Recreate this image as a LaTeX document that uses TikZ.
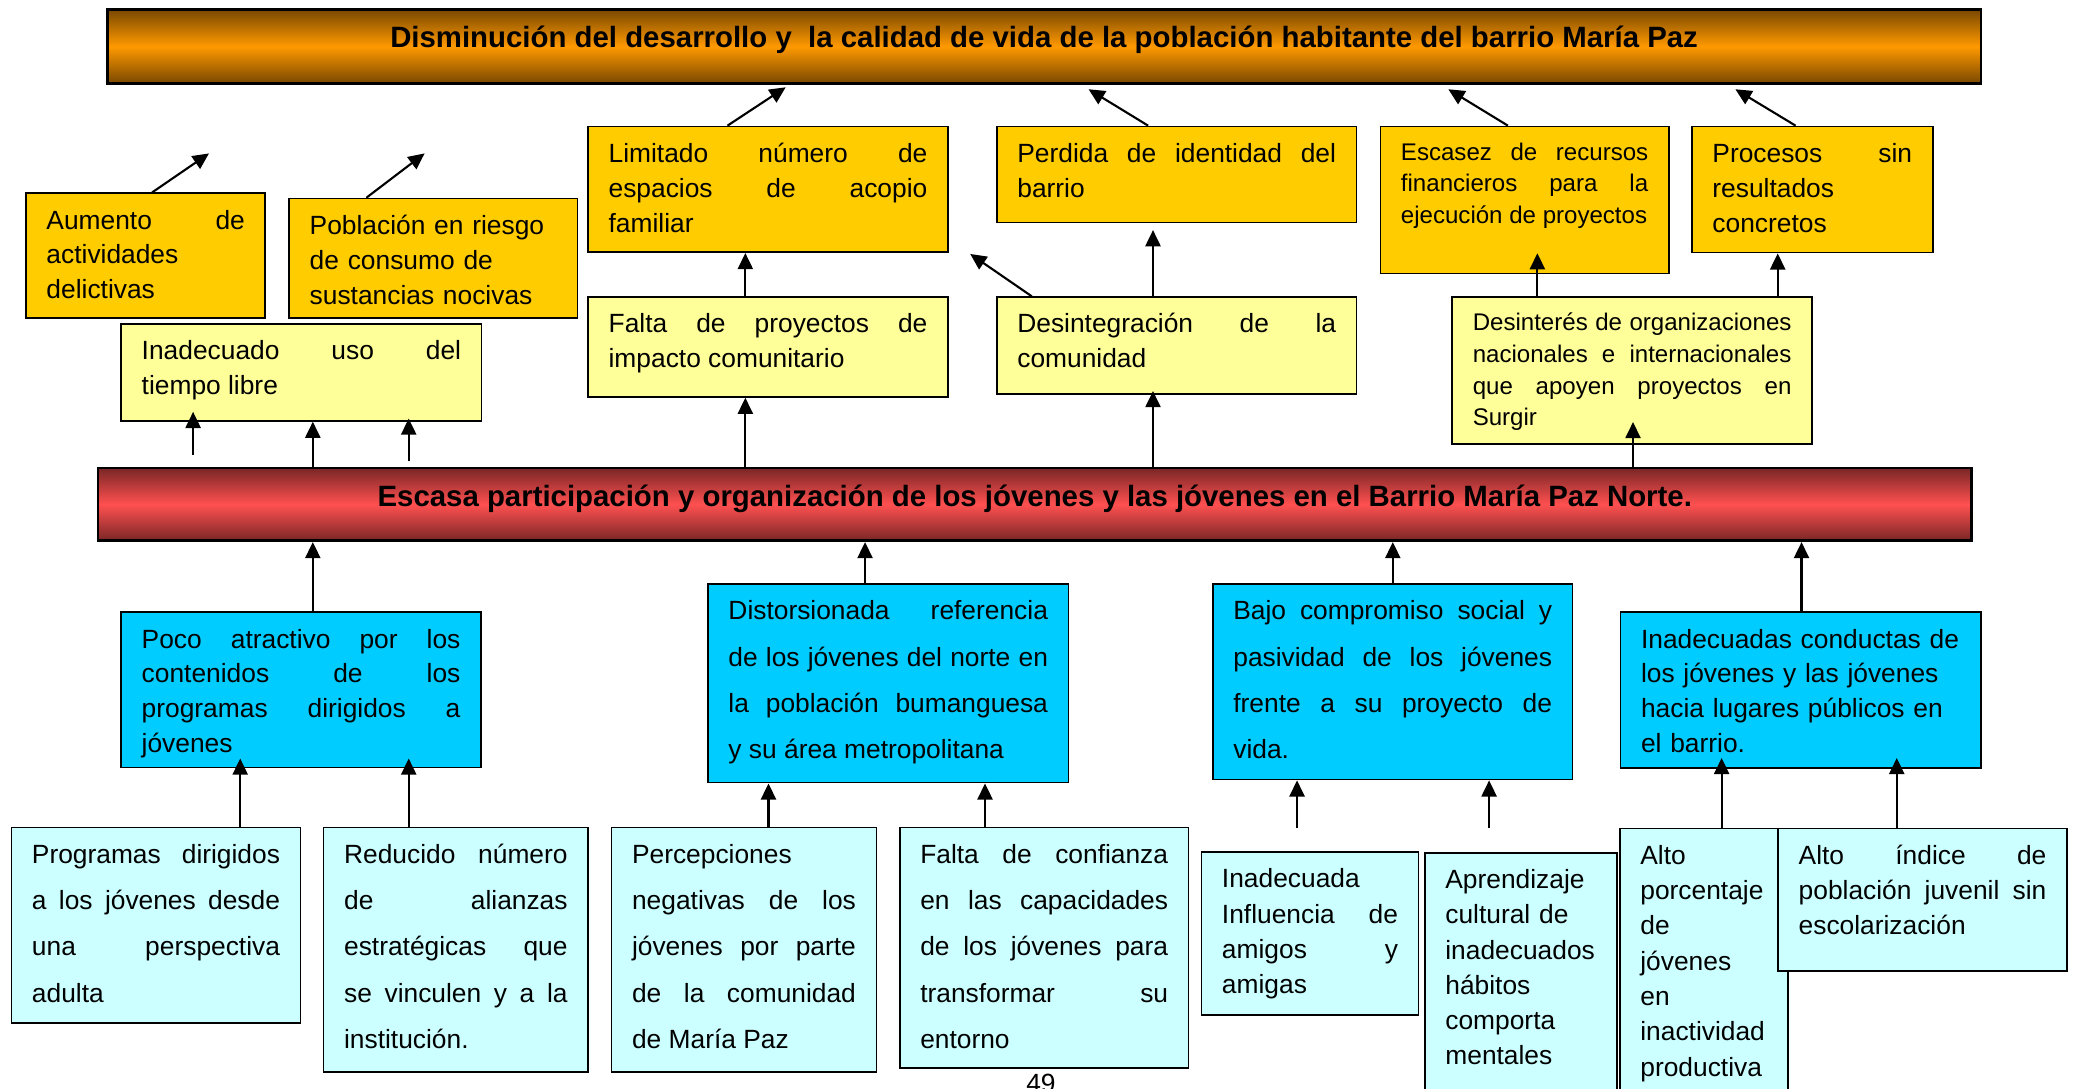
\documentclass[tikz,border=0pt]{standalone}
\usepackage{fontspec}
\setmainfont{Liberation Sans}
\usetikzlibrary{arrows.meta}
\definecolor{amarillo}{HTML}{FFCC00}
\definecolor{crema}{HTML}{FFFF99}
\definecolor{azul}{HTML}{00CCFF}
\definecolor{celeste}{HTML}{CCFFFF}
\definecolor{naranja}{HTML}{FF9900}
\definecolor{cafe}{HTML}{7A4800}
\definecolor{rojo}{HTML}{FF5050}
\definecolor{vino}{HTML}{7A2626}
\hyphenpenalty=10000
\exhyphenpenalty=10000
\begin{document}
\begin{tikzpicture}[x=0.013227cm, y=-0.013227cm,
 caja/.style={draw=black, line width=0.5pt, anchor=north west, inner xsep=5.83pt, inner ysep=0pt, text height=10.16pt, align=justify, font=\fontsize{7.5}{9.93}\selectfont},
 efe/.style={caja, fill=amarillo},
 efe2/.style={caja, fill=crema},
 cau/.style={caja, fill=azul},
 cau2/.style={caja, fill=celeste},
 chica/.style={font=\fontsize{6.85}{9.03}\selectfont, text height=9.55pt},
 doble/.style={font=\fontsize{7.5}{13.17}\selectfont},
 media/.style={font=\fontsize{7.5}{10.05}\selectfont},
 banda/.style={draw=black, line width=0.8pt, anchor=north west, inner sep=0pt, minimum width=533.2pt, font=\fontsize{8.36}{10}\selectfont\bfseries},
 flecha/.style={-{Triangle[width=4.3pt,length=4.6pt]}, line width=0.6pt}]
\useasboundingbox (0,0) rectangle (1568,823);

% efecto principal y problema central
\node[banda, top color=cafe, bottom color=cafe, middle color=naranja, text height=10.73pt, text depth=10.16pt] (efecto) at (80,6.3) {Disminución del desarrollo y \ la calidad de vida de la población habitante del barrio María Paz};
\node[banda, top color=vino, bottom color=vino, middle color=rojo, text height=10.91pt, text depth=9.75pt] (problema) at (73,352.8) {Escasa participación y organización de los jóvenes y las jóvenes en el Barrio María Paz Norte.};

% efectos
\node[efe, text width=56.45pt, text depth=25.4pt] (aumento) at (19,145.5) {Aumento de\linebreak actividades\linebreak delictivas};
\node[efe, align=left, text width=70.38pt, text depth=23.9pt] (poblacion) at (218,149.5) {Población en riesgo\\ de consumo de\\ sustancias nocivas};
\node[efe, text width=90.7pt, text depth=25.59pt] (limitado) at (444,95) {Limitado número de\linebreak espacios de acopio\linebreak familiar};
\node[efe, text width=90.7pt, text depth=17.16pt] (perdida) at (753,95) {Perdida de identidad del\linebreak barrio};
\node[efe, chica, text width=70.38pt, text depth=32.25pt] (escasez) at (1043,95) {Escasez de recursos\linebreak financieros para la\linebreak ejecución de proyectos};
\node[efe, text width=56.83pt, text depth=25.7pt] (procesos) at (1278.5,95) {Procesos sin\linebreak resultados\linebreak concretos};

\node[efe2, text width=90.89pt, text depth=17.31pt] (inadecuado) at (91,244.5) {Inadecuado uso del\linebreak tiempo libre};
\node[efe2, text width=90.7pt, text depth=18.21pt] (faltap) at (444,224) {Falta de proyectos de\linebreak impacto comunitario};
\node[efe2, text width=90.7pt, text depth=17.31pt] (desint) at (753,224) {Desintegración de la\linebreak comunidad};
\node[efe2, chica, text width=90.7pt, text depth=32.33pt] (desinteres) at (1097.3,224) {Desinterés de organizaciones\linebreak nacionales e internacionales\linebreak que apoyen proyectos en\linebreak Surgir};

% causas
\node[cau, text width=90.7pt, text depth=33.98pt] (poco) at (91,462.3) {Poco atractivo por los\linebreak contenidos de los\linebreak programas dirigidos a\linebreak jóvenes};
\node[cau, doble, text width=90.92pt, text depth=46.29pt] (distor) at (534.6,441) {Distorsionada referencia\linebreak de los jóvenes del norte en\linebreak la población bumanguesa\linebreak y su área metropolitana};
\node[cau, doble, text width=90.7pt, text depth=45.42pt] (bajo) at (916.3,441) {Bajo compromiso social y\linebreak pasividad de los jóvenes\linebreak frente a su proyecto de\linebreak vida.};
\node[cau, align=left, text width=90.89pt, text depth=34.13pt] (inadec) at (1224.5,462.3) {Inadecuadas conductas de\\ los jóvenes y las jóvenes\\ hacia lugares públicos en\\ el barrio.};

\node[cau2, doble, text width=70.6pt, text depth=45.54pt] (programas) at (8,625) {Programas dirigidos\linebreak a los jóvenes desde\linebreak una perspectiva\linebreak adulta};
\node[cau2, doble, text width=63.6pt, text depth=59.35pt] (reducido) at (244,625) {Reducido número\linebreak de alianzas\linebreak estratégicas que\linebreak se vinculen y a la\linebreak institución.};
\node[cau2, doble, text width=63.71pt, text depth=59.35pt] (percep) at (461.7,625) {Percepciones\linebreak negativas de los\linebreak jóvenes por parte\linebreak de la comunidad\linebreak de María Paz};
\node[cau2, doble, text width=70.53pt, text depth=58.33pt] (faltac) at (679.6,625) {Falta de confianza\linebreak en las capacidades\linebreak de los jóvenes para\linebreak transformar su\linebreak entorno};
\node[cau2, media, text width=50.09pt, text depth=36.13pt] (influencia) at (907.7,643.6) {Inadecuada\linebreak Influencia de\linebreak amigos y\linebreak amigas};
\node[cau2, media, align=left, text width=43.05pt, text depth=65.1pt] (aprend) at (1076.6,644) {Aprendizaje\\ cultural de\\ inadecuados\\ hábitos\\ comporta\\ mentales};
\node[cau2, media, align=left, text width=36.13pt, text depth=68.9pt] (altop) at (1224,625.7) {Alto\\ porcentaje\\ de\\ jóvenes\\ en\\ inactividad\\ productiva};
\node[cau2, media, text width=70.49pt, text depth=30.37pt] (altoi) at (1343.7,625.7) {Alto índice de\linebreak población juvenil sin\linebreak escolarización};

\node[font=\fontsize{7.5}{9}\selectfont, anchor=base] (pagina) at (787,826) {49};

% flechas hacia el efecto principal
\coordinate (pAum) at (158,116);
\coordinate (pPob) at (321,116);
\coordinate (pLim) at (594,66);
\coordinate (pPer) at (823,67.5);
\coordinate (pEsc) at (1095,67.5);
\coordinate (pPro) at (1312,67.5);
\coordinate (pDes) at (733.5,192);
\foreach \n/\x/\p in {aumento/115/pAum, poblacion/277/pPob, limitado/550/pLim, perdida/868/pPer, escasez/1140/pEsc, procesos/1357.5/pPro, desint/780/pDes}
 \draw[flecha] (\x,0 |- \n.north) -- (\p);

\draw[flecha] (563.5,0 |- faltap.north) -- (563.5,0 |- limitado.south);
\draw[flecha, shorten >=1.9pt] (871.7,0 |- desint.north) -- (871.7,0 |- perdida.south);
\draw[flecha, shorten >=-6pt] (1162.3,0 |- desinteres.north) -- (1162.3,0 |- escasez.south);
\draw[flecha] (1344,0 |- desinteres.north) -- (1344,0 |- procesos.south);

% del problema hacia los efectos
\foreach \x/\n/\a/\b in {146/inadecuado/3.4pt/-2.8pt, 236.5/inadecuado/0pt/0pt, 309/inadecuado/1.5pt/-0.9pt, 563.5/faltap/0pt/0pt, 871.7/desint/0pt/-1pt, 1234.6/desinteres/0pt/-6.6pt}
 \draw[flecha, shorten <=\a, shorten >=\b] (\x,0 |- problema.north) -- (\x,0 |- \n.south);

% de las causas al problema
\foreach \x/\n in {236.5/poco, 654/distor, 1053/bajo, 1362/inadec}
 \draw[flecha] (\x,0 |- \n.north) -- (\x,0 |- problema.south);

\foreach \x/\a/\b/\s/\t in {181.6/programas/poco/0pt/-2.8pt, 309/reducido/poco/0pt/-2.8pt, 581/percep/distor/0pt/0pt, 744.7/faltac/distor/0pt/0pt, 980.6/influencia/bajo/6.6pt/0pt, 1125.8/aprend/bajo/6.8pt/0pt, 1301.6/altop/inadec/0pt/-3.1pt, 1434/altoi/inadec/0pt/-3.1pt}
 \draw[flecha, shorten <=\s, shorten >=\t] (\x,0 |- \a.north) -- (\x,0 |- \b.south);
\end{tikzpicture}
\end{document}
